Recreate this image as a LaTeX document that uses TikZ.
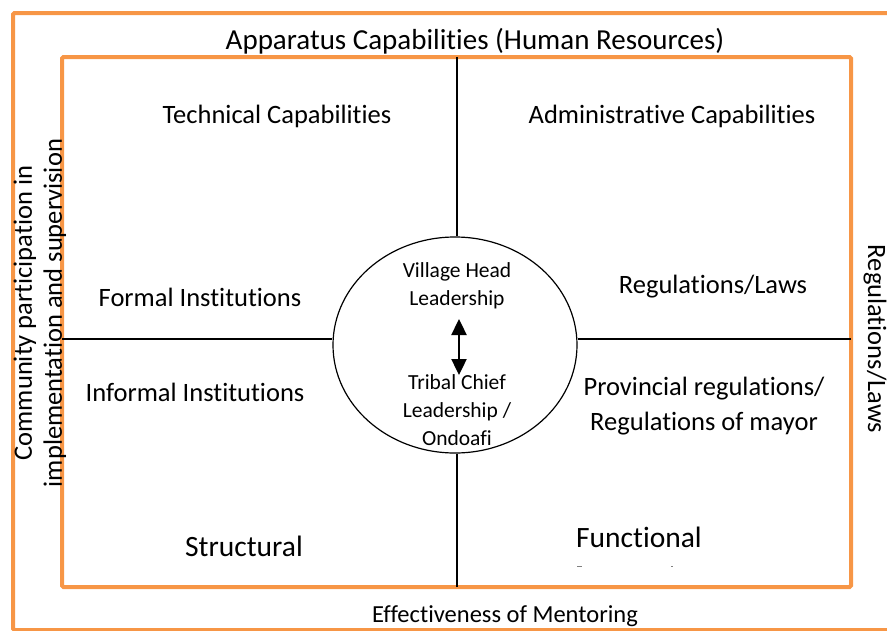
\documentclass[tikz,border=0pt]{standalone}
\usepackage{fontspec}
\setmainfont{Carlito}[Ligatures=NoCommon]
\usetikzlibrary{arrows.meta,shapes.geometric}
\definecolor{frameorange}{HTML}{F79646}
\tikzset{
  frame/.style={draw=frameorange, line width=4pt, rounded corners=1.5pt},
  divider/.style={draw=black, line width=1.2pt},
  label/.style={inner sep=0pt, font=\fontsize{26.5}{35}\selectfont, align=center},
  biglabel/.style={inner sep=0pt, font=\fontsize{29.5}{34}\selectfont, align=center},
  hub/.style={draw=black, line width=1.2pt, ellipse, minimum width=244pt, minimum height=216pt, inner sep=0pt},
  hubtext/.style={inner sep=0pt, font=\fontsize{21.5}{28}\selectfont, align=center},
}
\begin{document}
\begin{tikzpicture}[x=1pt, y=-1pt]
  \useasboundingbox (0,0) rectangle (887,630);
  % outer and inner frames
  \draw[frame] (13,13) rectangle (900,630);
  \draw[frame] (62,57) rectangle (851,587);
  % central ellipse
  \node[hub] (hub) at (455,345) {};
  % quadrant dividers
  \coordinate (top) at (457,57);
  \coordinate (bottom) at (457,587);
  \coordinate (left) at (62,339);
  \coordinate (right) at (851,339);
  \draw[divider] (top) -- (hub.north -| top);
  \draw[divider] (bottom) -- (hub.south -| bottom);
  \draw[divider] (left) -- (hub.west |- left);
  \draw[divider] (right) -- (hub.east |- right);
  % ellipse contents
  \node[hubtext] (vh) at (457,286) {Village Head\\Leadership};
  \node[hubtext] (tc) at (457,410) {Tribal Chief\\Leadership /\\Ondoafi};
  \coordinate (arrtop) at (459,319);
  \coordinate (arrbot) at (459,375);
  \draw[line width=2.4pt, {Triangle[length=16pt,width=15pt]}-{Triangle[length=16pt,width=15pt]}] (arrtop) -- (arrbot);
  % quadrant labels
  \node[label] (tech) at (277,116) {Technical Capabilities};
  \node[label] (admin) at (672,116) {Administrative Capabilities};
  \node[label] (formal) at (200,297) {Formal Institutions};
  \node[label] (regs) at (713,287) {Regulations/Laws};
  \node[label] (informal) at (195,392) {Informal Institutions};
  \node[label] (prov) at (704,406) {Provincial regulations/\\Regulations of mayor};
  \node[biglabel] (struct) at (244,546) {Structural};
  \node[biglabel] (func) at (639,537) {Functional};
  \draw[line width=1pt, gray] (577,566) -- (582,566);
  \draw[line width=1pt, gray] (671,566) -- (673,566);
  % axis labels
  \node[label, font=\fontsize{29}{34}\selectfont] (apparatus) at (475,41) {Apparatus Capabilities (Human Resources)};
  \node[label, font=\fontsize{24.5}{29}\selectfont] (mentor) at (505,616) {Effectiveness of Mentoring};
  \node[label, rotate=90, font=\fontsize{26.5}{30}\selectfont] (community) at (40,313) {Community participation in\\implementation and supervision};
  \node[label, rotate=-90] (lawside) at (875,339) {Regulations/Laws};
\end{tikzpicture}
\end{document}
